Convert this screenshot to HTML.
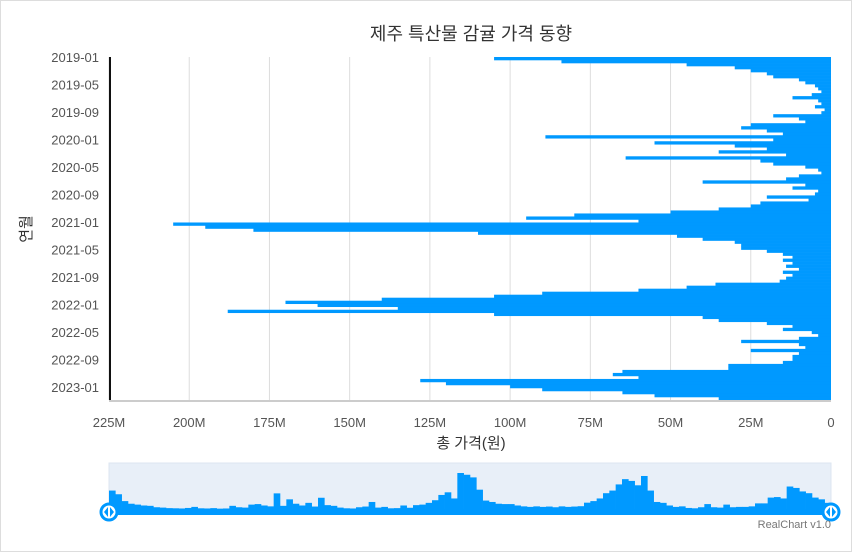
<!DOCTYPE html>
<html><head><meta charset="utf-8">
<style>
body{margin:0;background:#fff;}
#wrap{position:relative;width:850px;height:550px;border:1px solid #ddd;font-family:"Liberation Sans","Noto Sans CJK KR",sans-serif;}
svg text{font-family:"Liberation Sans","Noto Sans CJK KR",sans-serif;}
</style></head>
<body>
<div id="wrap">
<svg id="chart" width="850" height="550"></svg>
</div>
<script>
// values in millions of won, one per time bucket (chronological from 2019-01)
const values = [105,84,45,30,25,20,18,10,8,5,4,3,6,12,4,3,5,2,3,18,10,8,25,28,20,15,89,18,55,30,20,35,14,64,22,18,8,4,3,10,14,40,8,12,4,5,20,7,22,25,35,50,80,95,60,205,195,180,110,48,40,30,28,28,20,15,12,15,12,14,10,15,12,14,16,36,45,60,90,105,140,170,160,135,188,105,40,35,20,12,15,6,4,10,28,10,8,25,10,12,12,15,32,32,65,68,60,128,120,100,90,65,55,35];
const xTicks = [0,25,50,75,100,125,150,175,200,225];
const yTickLabels = ["2019-01","2019-05","2019-09","2020-01","2020-05","2020-09","2021-01","2021-05","2021-09","2022-01","2022-05","2022-09","2023-01"];
const yTickMonths = [0,4,8,12,16,20,24,28,32,36,40,44,48];

const NS="http://www.w3.org/2000/svg";
const svg=document.getElementById('chart');
function mk(tag,attrs,parent){const e=document.createElementNS(NS,tag);for(const k in attrs)e.setAttribute(k,attrs[k]);(parent||svg).appendChild(e);return e;}
const L=108,R=830,T=56,B=399;
const xMax=225;
const xScale=v=>R-(v/xMax)*(R-L);
const monthPx=6.875;
const yMonth=m=>T+m*monthPx;
const rowH=(B-T)/values.length;
const yRow=i=>T+i*rowH;

let t=mk('text',{x:470,y:39,'text-anchor':'middle','font-size':18,fill:'#333'});
t.textContent='제주 특산물 감귤 가격 동향';

const grid=mk('g',{});
xTicks.forEach(v=>{if(v===0)return;const l=mk('line',{x1:xScale(v),x2:xScale(v),y1:T,y2:B,stroke:'#ddd','stroke-width':1},grid);
});

const bars=mk('g',{});
values.forEach((v,i)=>{const x=xScale(v);const r=mk('rect',{x:x,y:yRow(i),width:R-x,height:rowH+0.3,fill:'#0099ff'},bars);
});

let ax=mk('line',{x1:L,x2:R,y1:B+1,y2:B+1,stroke:'#ccc','stroke-width':2});
let ay=mk('line',{x1:L+1,x2:L+1,y1:T,y2:B,stroke:'#111','stroke-width':2});

xTicks.forEach(v=>{const tx=mk('text',{x:xScale(v),y:426,'text-anchor':'middle','font-size':13,fill:'#555'});
tx.textContent=v===0?'0':v+'M';});
yTickLabels.forEach((s,i)=>{const tx=mk('text',{x:98,y:yMonth(yTickMonths[i])+5,'text-anchor':'end','font-size':13,fill:'#555'});
tx.textContent=s;});

let xt=mk('text',{x:470,y:447,'text-anchor':'middle','font-size':15,fill:'#333'});xt.textContent='총 가격(원)';
let yt=mk('text',{x:0,y:0,'text-anchor':'middle','font-size':15,fill:'#333',transform:'translate(30,228) rotate(-90)'});yt.textContent='연월';

// navigator
const nav=mk('g',{});
const NL=108,NR=830,NT=462,NB=510;
let nb=mk('rect',{x:NL,y:NT,width:NR-NL,height:NB-NT,fill:'#e8eff8',stroke:'#dde6f0'},nav);
const nx=i=>NL+i*(NR-NL)/values.length;
const nh=v=>2+v/205*36;
values.forEach((v,i)=>{const r=mk('rect',{x:nx(i),y:NB-nh(v),width:(NR-NL)/values.length+0.3,height:nh(v),fill:'#0099ff'},nav);
});
let track=mk('rect',{x:NL,y:NB-2,width:NR-NL,height:6,fill:'#0099ff'},nav);
[NL,NR].forEach((cx,k)=>{const g=mk('g',{},nav);
mk('circle',{cx:cx,cy:NB+1,r:8,fill:'#fff',stroke:'#0099ff','stroke-width':3},g);
mk('path',{d:`M${cx-1} ${NB-4} L${cx-5} ${NB+1} L${cx-1} ${NB+6}Z M${cx+1} ${NB-4} L${cx+5} ${NB+1} L${cx+1} ${NB+6}Z`,fill:'#0099ff'},g);});
let cr=mk('text',{x:830,y:527,'text-anchor':'end','font-size':11,fill:'#777'});cr.textContent='RealChart v1.0';
</script>
</body></html>
